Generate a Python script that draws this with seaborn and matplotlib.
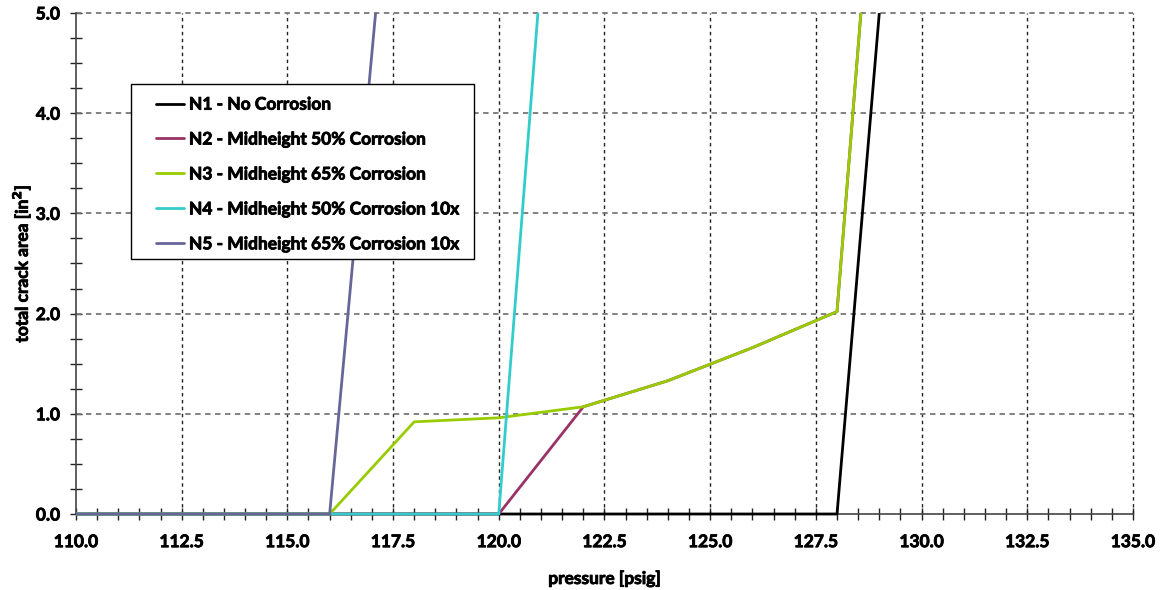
import matplotlib
matplotlib.use("Agg")
import matplotlib.pyplot as plt
import matplotlib.patheffects as pe
from matplotlib.ticker import MultipleLocator, FormatStrFormatter
from matplotlib.patches import Rectangle
import seaborn as sns
import pandas as pd

# Pressure steps [psig] and total crack area [in^2] for each model
pressure_n1 = [110, 112, 114, 116, 118, 120, 122, 124, 126, 128, 129]
area_n1 = [0, 0, 0, 0, 0, 0, 0, 0, 0, 0, 5.0]

pressure_n2 = [110, 112, 114, 116, 118, 120, 122, 124, 126, 128, 129]
area_n2 = [0, 0, 0, 0, 0, 0, 1.07, 1.33, 1.66, 2.02, 7.3]

pressure_n3 = [110, 112, 114, 116, 118, 120, 122, 124, 126, 128, 129]
area_n3 = [0, 0, 0, 0, 0.92, 0.96, 1.07, 1.33, 1.66, 2.02, 7.3]

pressure_n4 = [110, 112, 114, 116, 118, 120, 121]
area_n4 = [0, 0, 0, 0, 0, 0, 5.4]

pressure_n5 = [110, 112, 114, 116, 118]
area_n5 = [0, 0, 0, 0, 9.2]

series_labels = [
    "N1 - No Corrosion",
    "N2 - Midheight 50% Corrosion",
    "N3 - Midheight 65% Corrosion",
    "N4 - Midheight 50% Corrosion 10x",
    "N5 - Midheight 65% Corrosion 10x",
]
series_colors = ["#000000", "#993366", "#99CC00", "#33CCCC", "#666699"]

sns.set_theme(style="white")
plt.rcParams["font.family"] = ["Lato", "DejaVu Sans"]
plt.rcParams["font.weight"] = "bold"
plt.rcParams["mathtext.default"] = "bf"

fig = plt.figure(figsize=(11.63, 5.90), dpi=100)
ax = fig.add_axes([0.0653, 0.1288, 0.9089, 0.8492])

frames = []
for label, xs, ys in zip(
    series_labels,
    [pressure_n1, pressure_n2, pressure_n3, pressure_n4, pressure_n5],
    [area_n1, area_n2, area_n3, area_n4, area_n5],
):
    frames.append(pd.DataFrame({"pressure": xs, "area": ys, "series": label}))
df = pd.concat(frames, ignore_index=True)

for label, color in zip(series_labels, series_colors):
    sub = df[df["series"] == label]
    sns.lineplot(data=sub, x="pressure", y="area", color=color, lw=2.0,
                 estimator=None, sort=False, label=label, ax=ax, zorder=3)

ax.set_xlim(110, 135)
ax.set_ylim(0, 5.0)

# clip region reaching a little below the axis so curves on zero keep full width
clip_rect = Rectangle((0.0, -0.02), 1.0, 1.02, transform=ax.transAxes,
                      facecolor="none", edgecolor="none")
for line in ax.get_lines():
    line.set_clip_box(None)
    line.set_clip_path(clip_rect)

ax.xaxis.set_major_locator(MultipleLocator(2.5))
ax.xaxis.set_minor_locator(MultipleLocator(0.5))
ax.yaxis.set_major_locator(MultipleLocator(1.0))
ax.yaxis.set_minor_locator(MultipleLocator(0.25))
ax.xaxis.set_major_formatter(FormatStrFormatter("%.1f"))
ax.yaxis.set_major_formatter(FormatStrFormatter("%.1f"))

# grid: dotted verticals, grey dashed horizontals
ax.grid(False)
for xv in [112.5, 115, 117.5, 120, 122.5, 125, 127.5, 130, 132.5, 135]:
    ax.axvline(xv, color="#222222", lw=1.0, ls=(0, (2.5, 2.5)), zorder=1, clip_on=False)
for yv in [1, 2, 3, 4, 5]:
    ax.axhline(yv, color="#777777", lw=1.3, ls=(0, (3, 2.5)), zorder=1, clip_on=False)

for side in ["top", "right"]:
    ax.spines[side].set_visible(False)
for side in ["left", "bottom"]:
    ax.spines[side].set_visible(True)
    ax.spines[side].set_color("#444444")
    ax.spines[side].set_linewidth(1.2)
    ax.spines[side].set_zorder(2)

ax.tick_params(axis="both", which="major", direction="inout", length=9, width=1.0,
               color="#222222", labelsize=12.5, bottom=True, left=True)
ax.tick_params(axis="both", which="minor", direction="inout", length=9, width=1.0,
               color="#222222", bottom=True, left=True)
ax.tick_params(axis="x", which="major", pad=10)
ax.tick_params(axis="y", which="major", pad=7)

ax.set_xlabel("pressure [psig]", fontsize=12.5, fontweight="bold", labelpad=15)
ax.set_ylabel("total crack area [in$^{2}$]", fontsize=12.5, fontweight="bold", labelpad=2)

# legend frame drawn as a plain box, entries placed inside it
ax.add_patch(Rectangle((0.052, 0.509), 0.3245, 0.3493, transform=ax.transAxes,
                       facecolor="white", edgecolor="black", lw=1.0, zorder=5))
leg = ax.legend(loc="upper left", bbox_to_anchor=(0.0757, 0.833), frameon=False,
                prop={"weight": "bold", "size": 12.5}, handlelength=1.6,
                handletextpad=0.3, labelspacing=1.09, borderpad=0.0,
                borderaxespad=0.0)
leg.set_zorder(6)
for h in leg.get_lines():
    h.set_linewidth(2.0)

# slightly heavier strokes on all text
heavy = [pe.withStroke(linewidth=0.6, foreground="black")]
texts = (ax.get_xticklabels() + ax.get_yticklabels() + leg.get_texts()
         + [ax.xaxis.label, ax.yaxis.label])
for t in texts:
    t.set_fontweight("bold")
    t.set_color("black")
    t.set_path_effects(heavy)

fig.savefig("out.png", dpi=100)
